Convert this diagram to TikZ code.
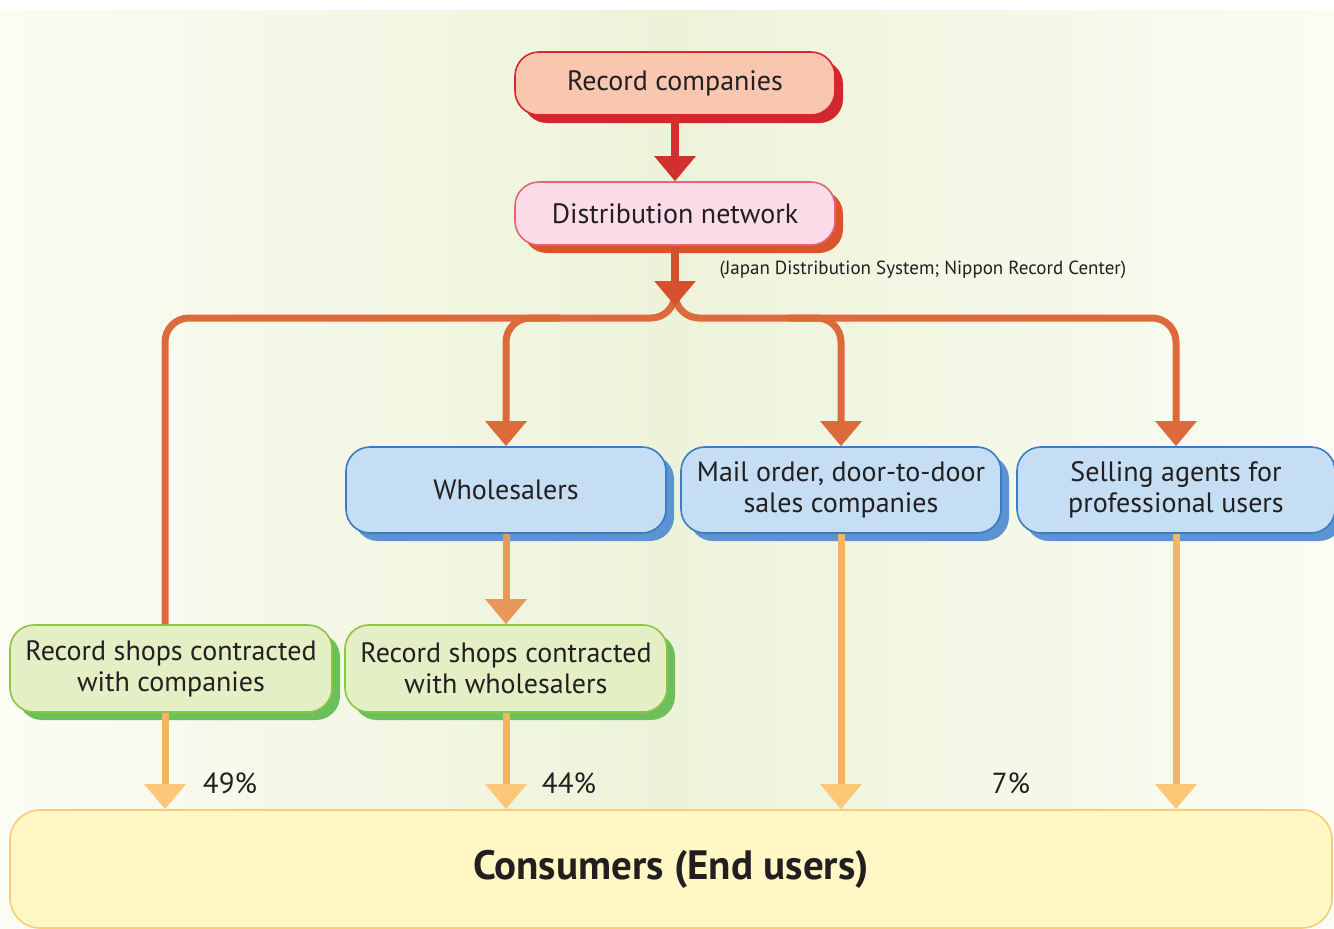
\documentclass[tikz,border=0pt]{standalone}
\usepackage{fontspec}
\setmainfont{PT Sans}
\usetikzlibrary{arrows.meta,shadows,calc}
\definecolor{bgside}{HTML}{FBFCF4}
\definecolor{bgmid}{HTML}{EDF3D9}
\definecolor{recfill}{HTML}{F9C6B0}
\definecolor{recline}{HTML}{D8262E}
\definecolor{recshadow}{HTML}{D0282D}
\definecolor{distfill}{HTML}{FCDCE8}
\definecolor{distline}{HTML}{E8637A}
\definecolor{distshadow}{HTML}{D9542B}
\definecolor{bluefill}{HTML}{C6DEF4}
\definecolor{blueline}{HTML}{3A7CC4}
\definecolor{blueshadow}{HTML}{5B93D3}
\definecolor{greenfill}{HTML}{E5EFC6}
\definecolor{greenline}{HTML}{8CC63F}
\definecolor{greenshadow}{HTML}{6CBF5B}
\definecolor{consfill}{HTML}{FFF8C4}
\definecolor{consline}{HTML}{FBCB78}
\definecolor{flowred}{HTML}{D2302E}
\definecolor{flowtop}{HTML}{D4502E}
\definecolor{flowmid}{HTML}{DC6A3B}
\definecolor{flowlow}{HTML}{E8975A}
\definecolor{flowend}{HTML}{F3B466}
\definecolor{tipend}{HTML}{FCC878}
\definecolor{ink}{HTML}{231F20}
\tikzset{
  box/.style={draw, rounded corners=24pt, line width=1.6pt, align=center,
    inner sep=0pt, text=ink, font=\fontsize{28}{31}\selectfont},
  recbox/.style={box, fill=recfill, draw=recline,
    minimum width=320pt, minimum height=63pt,
    drop shadow={shadow xshift=8pt, shadow yshift=-8pt, fill=recshadow, opacity=1}},
  distbox/.style={box, fill=distfill, draw=distline,
    minimum width=320pt, minimum height=63pt,
    drop shadow={shadow xshift=8pt, shadow yshift=-8pt, fill=distshadow, opacity=1}},
  bluebox/.style={box, fill=bluefill, draw=blueline,
    minimum width=320pt, minimum height=86pt,
    drop shadow={shadow xshift=8pt, shadow yshift=-8pt, fill=blueshadow, opacity=1}},
  greenbox/.style={box, fill=greenfill, draw=greenline,
    minimum width=322pt, minimum height=87pt,
    drop shadow={shadow xshift=8pt, shadow yshift=-8pt, fill=greenshadow, opacity=1}},
  consbox/.style={box, fill=consfill, draw=consline, rounded corners=30pt,
    minimum width=1322pt, minimum height=118pt,
    font=\fontsize{41}{46}\selectfont\bfseries},
  flow/.style={line width=7pt, rounded corners=24pt},
  tip/.style={-{Triangle[width=40pt,length=25pt,#1]}},
  tip/.default={},
  pct/.style={font=\fontsize{29}{32}\selectfont, text=ink}
}
\begin{document}
\begin{tikzpicture}[x=1pt,y=-1pt]
  \useasboundingbox (0,0) rectangle (1334,929);
  \fill[white] (0,0) rectangle (1334,929);
  \shade[left color=bgside, right color=bgside, middle color=bgmid]
    (0,10) rectangle (1334,929);

  % boxes
  \node[recbox] (rec) at (675,83.5) {Record companies};
  \node[distbox] (dist) at (675,213.5) {Distribution network};
  \node[anchor=west, font=\fontsize{19}{22}\selectfont, text=ink] (note)
    at (716,270) {(Japan Distribution System; Nippon Record Center)};

  \node[bluebox] (whole) at (506,490) {Wholesalers};
  \node[bluebox] (mail) at (841,490) {Mail order, door-to-door\\sales companies};
  \node[bluebox, minimum width=318pt] (agents) at (1176,490)
    {Selling agents for\\professional users};

  \node[greenbox] (shopsA) at (171,668.5) {Record shops contracted\\with companies};
  \node[greenbox] (shopsB) at (506,668.5) {Record shops contracted\\with wholesalers};

  \node[consbox] (cons) at (671,869) {Consumers (End users)};

  % flows
  \coordinate (split) at (675,306);
  \coordinate (bar) at (675,318);

  \draw[flow, color=flowmid] (675,296) -- (bar) -| ([xshift=-6pt]shopsA.north);
  \draw[flow, color=flowmid, tip] (675,296) -- (bar) -| (agents.north);
  \draw[flow, color=flowmid, tip] (560,318) -| (whole.north);
  \draw[flow, color=flowmid, tip] (790,318) -| (mail.north);

  \draw[line width=8pt, color=flowred, tip] (rec.south) -- (dist.north);
  \draw[line width=8pt, color=flowtop, tip] (dist.south) -- (split);

  \draw[flow, color=flowlow, tip] (whole.south) -- (shopsB.north);

  \draw[flow, color=flowend, tip={color=tipend}]
    ([xshift=-6pt]shopsA.south) -- ([xshift=-6pt]shopsA.south |- cons.north);
  \draw[flow, color=flowend, tip={color=tipend}]
    (shopsB.south) -- (shopsB.south |- cons.north);
  \draw[flow, color=flowend, tip={color=tipend}]
    (mail.south) -- (mail.south |- cons.north);
  \draw[flow, color=flowend, tip={color=tipend}]
    (agents.south) -- (agents.south |- cons.north);

  % shares
  \node[pct] (p49) at (230,783) {49\%};
  \node[pct] (p44) at (569,783) {44\%};
  \node[pct] (p7) at (1011,783) {7\%};
\end{tikzpicture}
\end{document}
